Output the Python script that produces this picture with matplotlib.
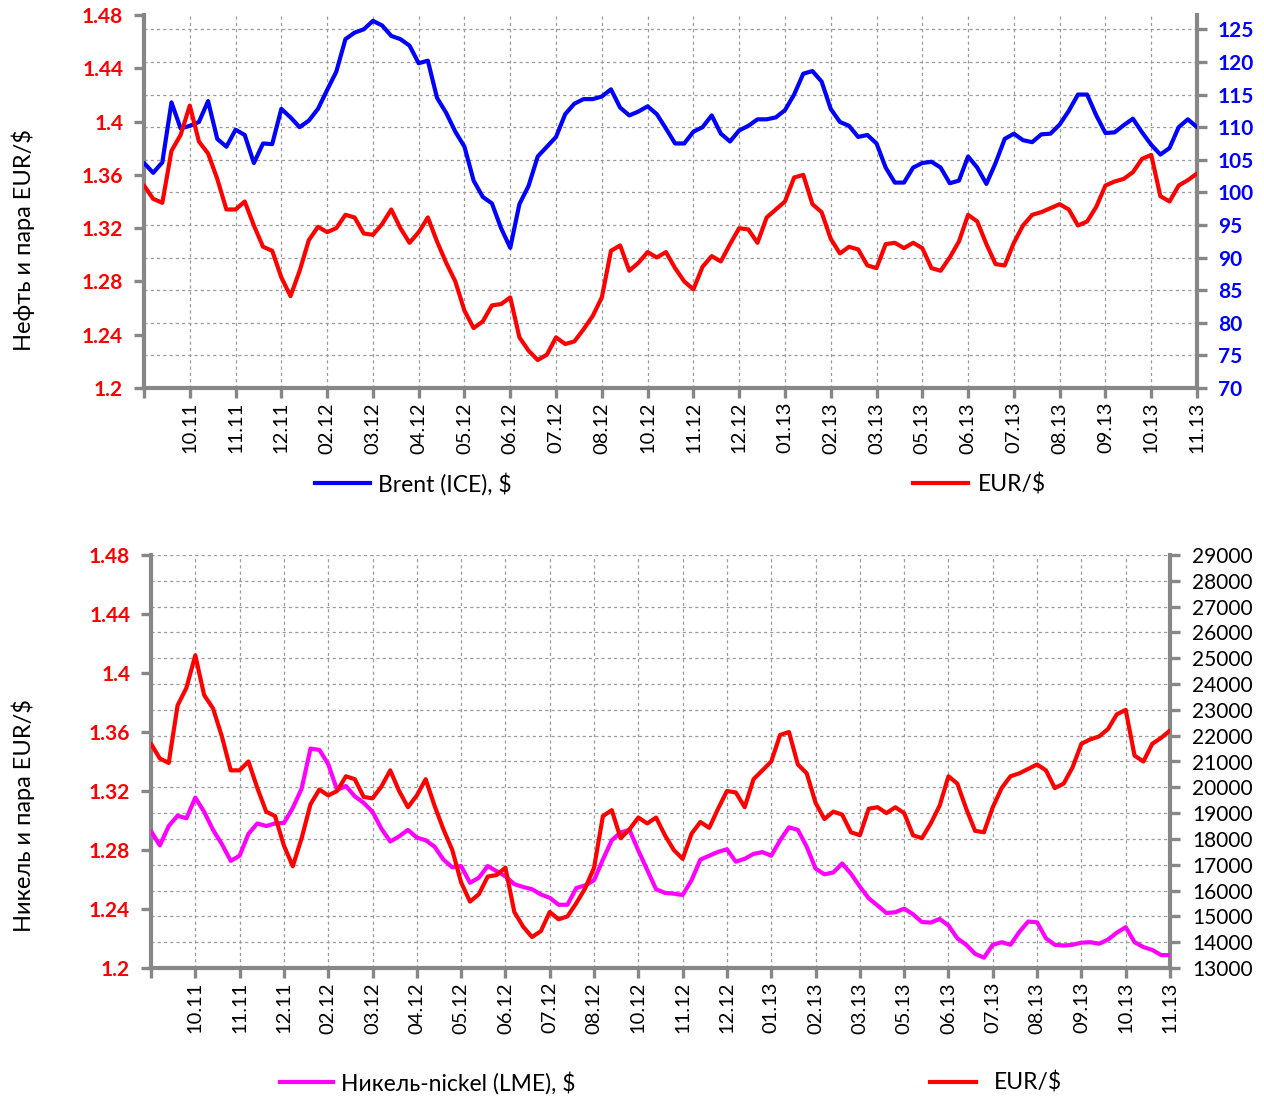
import numpy as np
import matplotlib
matplotlib.use('Agg')
import matplotlib.pyplot as plt
from matplotlib.lines import Line2D

# ---------------- data ----------------
month_labels = ["10.11", "11.11", "12.11", "02.12", "03.12", "04.12", "05.12", "06.12",
                "07.12", "08.12", "10.12", "11.12", "12.12", "01.13", "02.13", "03.13",
                "05.13", "06.13", "07.13", "08.13", "09.13", "10.13", "11.13"]
points_per_label = 5

brent = [104.5, 103.0, 104.6, 113.8, 109.8, 110.2, 110.8, 114.0, 108.2, 107.0,
         109.6, 108.8, 104.5, 107.5, 107.4, 112.8, 111.5, 110.0, 111.0, 112.8,
         115.7, 118.5, 123.5, 124.5, 125.0, 126.3, 125.6, 124.0, 123.5, 122.5,
         119.8, 120.2, 114.5, 112.2, 109.3, 107.0, 101.8, 99.3, 98.3, 94.5,
         91.5, 98.2, 101.0, 105.5, 107.0, 108.5, 112.0, 113.6, 114.3, 114.3,
         114.7, 115.8, 113.0, 111.8, 112.4, 113.2, 112.0, 109.8, 107.5, 107.5,
         109.3, 110.0, 111.8, 109.0, 107.8, 109.5, 110.2, 111.2, 111.2, 111.5,
         112.6, 115.0, 118.2, 118.6, 117.0, 112.8, 110.8, 110.2, 108.5, 108.8,
         107.5, 103.8, 101.5, 101.5, 103.8, 104.5, 104.7, 103.8, 101.4, 101.8,
         105.5, 103.8, 101.3, 104.5, 108.2, 109.0, 108.0, 107.7, 108.9, 109.0,
         110.4, 112.5, 115.0, 115.0, 111.8, 109.1, 109.2, 110.3, 111.3, 109.2,
         107.3, 105.8, 106.8, 110.0, 111.2, 110.0]

eur = [1.352, 1.342, 1.339, 1.378, 1.390, 1.412, 1.385, 1.376, 1.357, 1.334,
       1.334, 1.340, 1.322, 1.306, 1.303, 1.283, 1.269, 1.288, 1.311, 1.321,
       1.317, 1.320, 1.330, 1.328, 1.316, 1.315, 1.323, 1.334, 1.320, 1.309,
       1.317, 1.328, 1.310, 1.294, 1.280, 1.258, 1.245, 1.250, 1.262, 1.263,
       1.268, 1.238, 1.228, 1.221, 1.225, 1.238, 1.233, 1.235, 1.244, 1.254,
       1.268, 1.303, 1.307, 1.288, 1.294, 1.302, 1.298, 1.302, 1.290, 1.280,
       1.274, 1.291, 1.299, 1.295, 1.308, 1.320, 1.319, 1.309, 1.328, 1.334,
       1.340, 1.358, 1.360, 1.338, 1.332, 1.312, 1.301, 1.306, 1.304, 1.292,
       1.290, 1.308, 1.309, 1.305, 1.309, 1.305, 1.290, 1.288, 1.298, 1.310,
       1.330, 1.325, 1.308, 1.293, 1.292, 1.309, 1.322, 1.330, 1.332, 1.335,
       1.338, 1.334, 1.322, 1.325, 1.336, 1.352, 1.355, 1.357, 1.362, 1.372,
       1.375, 1.344, 1.340, 1.352, 1.356, 1.361]

nickel = [18300, 17750, 18500, 18900, 18800, 19600, 19050, 18350, 17800, 17150,
          17350, 18200, 18600, 18500, 18600, 18620, 19200, 19950, 21500, 21450,
          20900, 19900, 20050, 19650, 19400, 19050, 18400, 17900, 18100, 18350,
          18050, 17950, 17700, 17200, 16900, 16950, 16300, 16500, 16950, 16750,
          16550, 16250, 16140, 16050, 15850, 15720, 15450, 15450, 16100, 16200,
          16400, 17200, 17950, 18250, 18350, 17550, 16800, 16050, 15910, 15880,
          15830, 16400, 17200, 17350, 17500, 17600, 17120, 17230, 17420, 17490,
          17350, 17950, 18450, 18350, 17700, 16850, 16630, 16700, 17050, 16650,
          16150, 15700, 15420, 15130, 15160, 15300, 15080, 14780, 14760, 14900,
          14650, 14150, 13900, 13550, 13400, 13900, 14000, 13900, 14400, 14800,
          14770, 14150, 13900, 13870, 13900, 13980, 14000, 13940, 14100, 14370,
          14580, 14000, 13810, 13700, 13500, 13500]

eur_ticks = [1.2, 1.24, 1.28, 1.32, 1.36, 1.4, 1.44, 1.48]
brent_ticks = [70, 75, 80, 85, 90, 95, 100, 105, 110, 115, 120, 125]
nickel_ticks = list(range(13000, 29001, 1000))

# ---------------- style ----------------
W, H = 1264, 1099
GRAY = '#878787'
GRID = '#9a9a9a'
FONT = ['Lato', 'DejaVu Sans']
TXT = ['Lato', 'Noto Sans', 'DejaVu Sans']

x = np.arange(len(eur)) / points_per_label
n_lab = len(month_labels)

fig = plt.figure(figsize=(W / 100, H / 100), dpi=100)


def px_rect(l, t, r, b):
    return [l / W, 1 - b / H, (r - l) / W, (b - t) / H]


def panel(rect, right_data, right_color, right_ticks, right_lim, right_lab_color,
          right_bold, right_fs, right_pad, ylabel, ylabel_y):
    ax = fig.add_axes(rect)
    ax.plot(x, right_data, color=right_color, lw=3.0, solid_joinstyle='round',
            solid_capstyle='round', zorder=3)
    ax2 = ax.twinx()
    ax2.plot(x, eur, color='#ff0000', lw=3.0, solid_joinstyle='round',
             solid_capstyle='round', zorder=3)

    ax.set_xlim(0, n_lab)
    ax.set_ylim(*right_lim)
    ax2.set_ylim(eur_ticks[0], eur_ticks[-1])

    # right scale (primary)
    ax.yaxis.tick_right()
    ax.set_yticks(right_ticks, labels=[str(v) for v in right_ticks],
                  color=right_lab_color, fontweight='bold' if right_bold else 'normal',
                  fontsize=right_fs, family=FONT)
    ax.tick_params(axis='y', direction='out', length=7, width=2.4, color=GRAY,
                   pad=right_pad)
    # x axis
    ax.set_xticks(np.arange(n_lab + 1), labels=[''] + month_labels, rotation=90,
                  fontsize=14.5, family=FONT)
    ax.tick_params(axis='x', direction='out', length=7, width=2.4, color=GRAY, pad=3)
    ax.grid(True, color=GRID, linestyle=(0, (2.5, 2.5)), linewidth=0.9, zorder=0)

    # left scale (EUR)
    ax2.yaxis.tick_left()
    ax2.yaxis.set_label_position('left')
    ax2.set_yticks(eur_ticks, labels=['%g' % v for v in eur_ticks], color='#ff0000',
                   fontweight='bold', fontsize=15, family=FONT)
    ax2.tick_params(axis='y', direction='out', length=7, width=2.4, color=GRAY, pad=8)

    for a in (ax, ax2):
        for s in a.spines.values():
            s.set_visible(False)
    for s in ('left', 'right', 'bottom'):
        ax.spines[s].set_visible(True)
        ax.spines[s].set_color(GRAY)
        ax.spines[s].set_linewidth(3.0)

    fig.text(23 / W, 1 - ylabel_y / H, ylabel, rotation=90, ha='center', va='center',
             fontsize=17, family=TXT, color='black')
    return ax, ax2


panel(px_rect(144, 15, 1197, 388), brent, '#0000ff', brent_ticks, (70, 127.2),
      '#0000ff', True, 15, 8, 'Нефть и пара EUR/$', 240)
panel(px_rect(151, 555, 1170, 968), nickel, '#ff00ff', nickel_ticks, (13000, 29000),
      'black', False, 15, 9, 'Никель и пара EUR/$', 816)


def legend_item(color, label, lx, ly, hlen, tpad):
    fig.legend(handles=[Line2D([], [], color=color, lw=3.0)], labels=[label],
               loc='center left', bbox_to_anchor=(lx / W, 1 - ly / H),
               frameon=False, handlelength=hlen, handletextpad=tpad,
               borderpad=0, borderaxespad=0, prop={'family': TXT, 'size': 16.5})


legend_item('#0000ff', 'Brent (ICE), $', 315, 484, 2.4, 0.35)
legend_item('#ff0000', 'EUR/$', 913, 484, 2.4, 0.45)
legend_item('#ff00ff', 'Никель-nickel (LME), $', 280, 1083, 2.3, 0.35)
legend_item('#ff0000', 'EUR/$', 930, 1083, 2.0, 0.8)

fig.savefig('out.png', dpi=100)
